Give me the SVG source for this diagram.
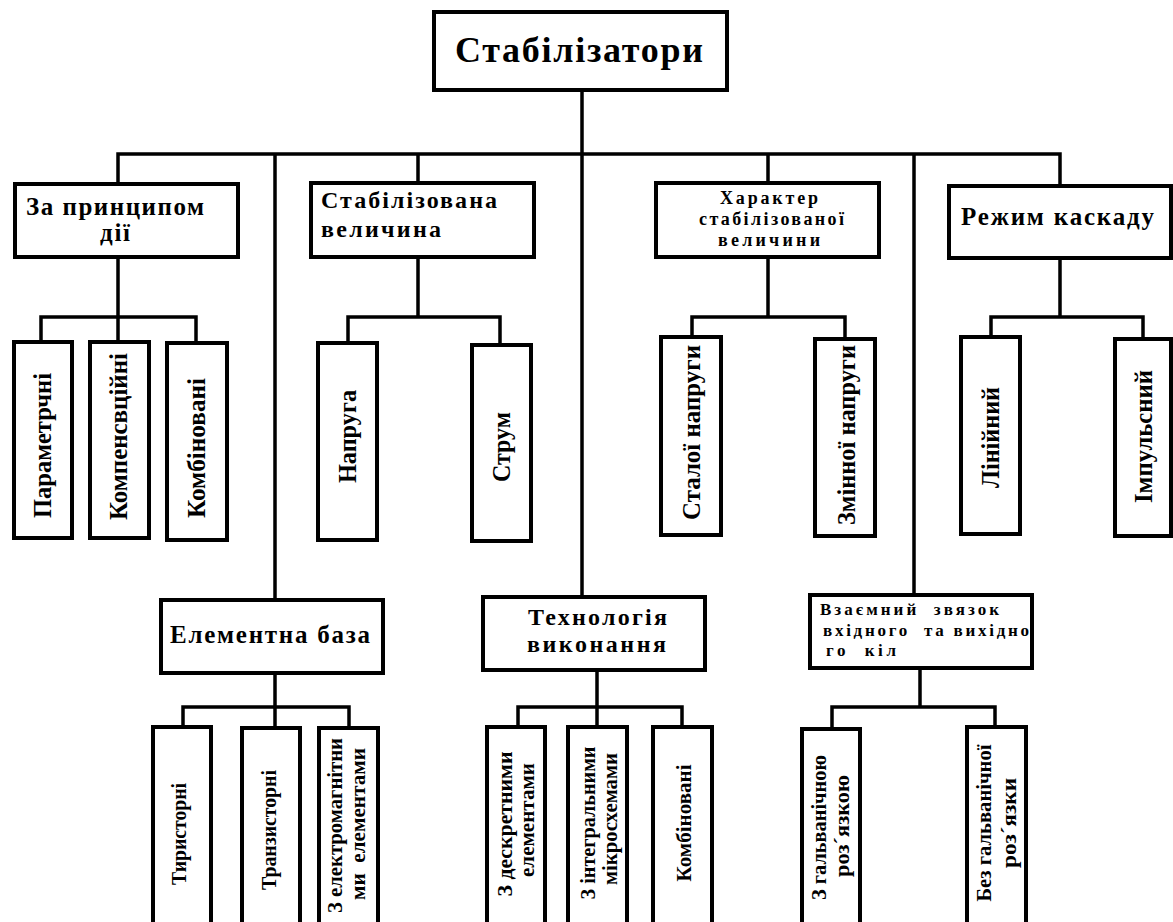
<svg xmlns="http://www.w3.org/2000/svg" width="1173" height="922" viewBox="0 0 1173 922">
<style>
.b{fill:#fff;stroke:#000;stroke-width:4}
.c{fill:none;stroke:#000;stroke-width:3.5;stroke-linecap:square}
text{font-family:"Liberation Serif","Times New Roman",serif;font-weight:bold;fill:#000;white-space:pre}
.v{dominant-baseline:central;text-anchor:middle}
.r1{font-size:25px}
.r2{font-size:20px}
</style>
<rect width="1173" height="922" fill="#fff"/>
<g id="connectors">
<path class="c" d="M582 90V597M118 154H1060M118 154V184M275 154V600M418 154V183M768 154V183M914 154V595M1060 154V186"/>
<path class="c" d="M118 257V317M41 317H196M41 317V342M118 317V342M196 317V343"/>
<path class="c" d="M418 257V317M348 317H500M348 317V343M500 317V345"/>
<path class="c" d="M768 257V317M692 317H845M692 317V337M845 317V339"/>
<path class="c" d="M1060 258V317M991 317H1143M991 317V337M1143 317V339"/>
<path class="c" d="M275 673V707M183 707H349M183 707V727M275 707V727M349 707V727"/>
<path class="c" d="M597 670V707M518 707H682M518 707V727M597 707V727M682 707V727"/>
<path class="c" d="M920 668V707M832 707H995M832 707V729M995 707V727"/>
</g>
<g id="n-root"><rect class="b" x="434" y="12" width="293" height="78"/><text x="455" y="62" font-size="36" textLength="248" lengthAdjust="spacing">Стабілізатори</text></g>
<g id="n-principle"><rect class="b" x="15" y="184" width="223" height="73"/><text x="26" y="215" font-size="25" textLength="178" lengthAdjust="spacing">За принципом</text><text x="100" y="241" font-size="25" textLength="30" lengthAdjust="spacing">дії</text></g>
<g id="n-quantity"><rect class="b" x="311" y="183" width="223" height="74"/><text x="321" y="208" font-size="24" textLength="176" lengthAdjust="spacing">Стабілізована</text><text x="321" y="237" font-size="24" textLength="120" lengthAdjust="spacing">величина</text></g>
<g id="n-character"><rect class="b" x="656" y="183" width="223" height="74"/><text x="720" y="204" font-size="18" textLength="98" lengthAdjust="spacing">Характер</text><text x="699" y="225" font-size="18" textLength="145" lengthAdjust="spacing">стабілізованої</text><text x="718" y="246" font-size="18" textLength="102" lengthAdjust="spacing">величини</text></g>
<g id="n-mode"><rect class="b" x="949" y="186" width="222" height="72"/><text x="961" y="225" font-size="25" textLength="193" lengthAdjust="spacing">Режим каскаду</text></g>
<g id="n-param"><rect class="b" x="14" y="342" width="58" height="196"/><text class="v r1" transform="translate(42 445.5) rotate(-90)" textLength="145" lengthAdjust="spacingAndGlyphs">Параметрчні</text></g>
<g id="n-comp"><rect class="b" x="90" y="342" width="59" height="196"/><text class="v r1" transform="translate(118.5 436.5) rotate(-90)" textLength="167" lengthAdjust="spacingAndGlyphs">Компенсвційні</text></g>
<g id="n-comb1"><rect class="b" x="167" y="343" width="60" height="197"/><text class="v r1" transform="translate(196 448) rotate(-90)" textLength="140" lengthAdjust="spacingAndGlyphs">Комбіновані</text></g>
<g id="n-voltage"><rect class="b" x="318" y="343" width="59" height="197"/><text class="v r1" transform="translate(347 436.5) rotate(-90)" textLength="93" lengthAdjust="spacingAndGlyphs">Напруга</text></g>
<g id="n-current"><rect class="b" x="472" y="345" width="59" height="196"/><text class="v r1" transform="translate(501 447) rotate(-90)" textLength="70" lengthAdjust="spacingAndGlyphs">Струм</text></g>
<g id="n-dc"><rect class="b" x="661" y="337" width="60" height="198"/><text class="v r1" transform="translate(691.5 432.5) rotate(-90)" textLength="175" lengthAdjust="spacingAndGlyphs">Сталої напруги</text></g>
<g id="n-ac"><rect class="b" x="815" y="339" width="60" height="197"/><text class="v r1" transform="translate(846 435) rotate(-90)" textLength="180" lengthAdjust="spacingAndGlyphs">Змінної напруги</text></g>
<g id="n-linear"><rect class="b" x="961" y="337" width="59" height="197"/><text class="v r1" transform="translate(990 437.5) rotate(-90)" textLength="101" lengthAdjust="spacingAndGlyphs">Лінійний</text></g>
<g id="n-pulse"><rect class="b" x="1115" y="339" width="56" height="197"/><text class="v r1" transform="translate(1143 436.5) rotate(-90)" textLength="133" lengthAdjust="spacingAndGlyphs">Імпульсний</text></g>
<g id="n-base"><rect class="b" x="161" y="600" width="222" height="73"/><text x="170" y="643" font-size="25" textLength="200" lengthAdjust="spacing">Елементна база</text></g>
<g id="n-tech"><rect class="b" x="483" y="597" width="222" height="73"/><text x="528" y="625" font-size="24" textLength="139" lengthAdjust="spacing">Технологія</text><text x="527" y="652" font-size="24" textLength="139" lengthAdjust="spacing">виконання</text></g>
<g id="n-coupling"><rect class="b" x="810" y="595" width="222" height="73"/><text x="820" y="615" font-size="17" textLength="179" lengthAdjust="spacing">Взаємний  звязок</text><text x="823" y="635.5" font-size="17" textLength="206" lengthAdjust="spacing">вхідного  та вихідно</text><text x="826" y="656" font-size="17" textLength="70" lengthAdjust="spacing">го  кіл</text></g>
<g id="n-thyr"><rect class="b" x="153" y="727" width="58" height="203"/><text class="v r2" transform="translate(179 834) rotate(-90)" textLength="102" lengthAdjust="spacingAndGlyphs">Тиристорні</text></g>
<g id="n-trans"><rect class="b" x="242" y="728" width="58" height="202"/><text class="v r2" transform="translate(269 830) rotate(-90)" textLength="120" lengthAdjust="spacingAndGlyphs">Транзисторні</text></g>
<g id="n-em"><rect class="b" x="319" y="728" width="59" height="202"/><text class="v r2" transform="translate(335 825.5) rotate(-90)" textLength="175" lengthAdjust="spacingAndGlyphs">З електромагнітни</text><text class="v r2" transform="translate(358 824) rotate(-90)" textLength="152" lengthAdjust="spacingAndGlyphs">ми  елементами</text></g>
<g id="n-discrete"><rect class="b" x="487" y="727" width="58" height="203"/><text class="v r2" transform="translate(505 824) rotate(-90)" textLength="145" lengthAdjust="spacingAndGlyphs">З дескретними</text><text class="v r2" transform="translate(527 820) rotate(-90)" textLength="114" lengthAdjust="spacingAndGlyphs">елементами</text></g>
<g id="n-ic"><rect class="b" x="568" y="727" width="59" height="203"/><text class="v r2" transform="translate(588 823) rotate(-90)" textLength="153" lengthAdjust="spacingAndGlyphs">З інтегральними</text><text class="v r2" transform="translate(610 819) rotate(-90)" textLength="132" lengthAdjust="spacingAndGlyphs">мікросхемами</text></g>
<g id="n-comb2"><rect class="b" x="653" y="727" width="59" height="203"/><text class="v r2" transform="translate(683.5 823) rotate(-90)" textLength="117" lengthAdjust="spacingAndGlyphs">Комбіновані</text></g>
<g id="n-galv"><rect class="b" x="802" y="729" width="58" height="201"/><text class="v r2" transform="translate(819 827.5) rotate(-90)" textLength="145" lengthAdjust="spacingAndGlyphs">З гальванічною</text><text class="v r2" transform="translate(842 826) rotate(-90)" textLength="102" lengthAdjust="spacingAndGlyphs">розˊязкою</text></g>
<g id="n-nogalv"><rect class="b" x="967" y="727" width="59" height="203"/><text class="v r2" transform="translate(984 823) rotate(-90)" textLength="157" lengthAdjust="spacingAndGlyphs">Без гальванічної</text><text class="v r2" transform="translate(1009 823) rotate(-90)" textLength="90" lengthAdjust="spacingAndGlyphs">розˊязки</text></g>
</svg>
